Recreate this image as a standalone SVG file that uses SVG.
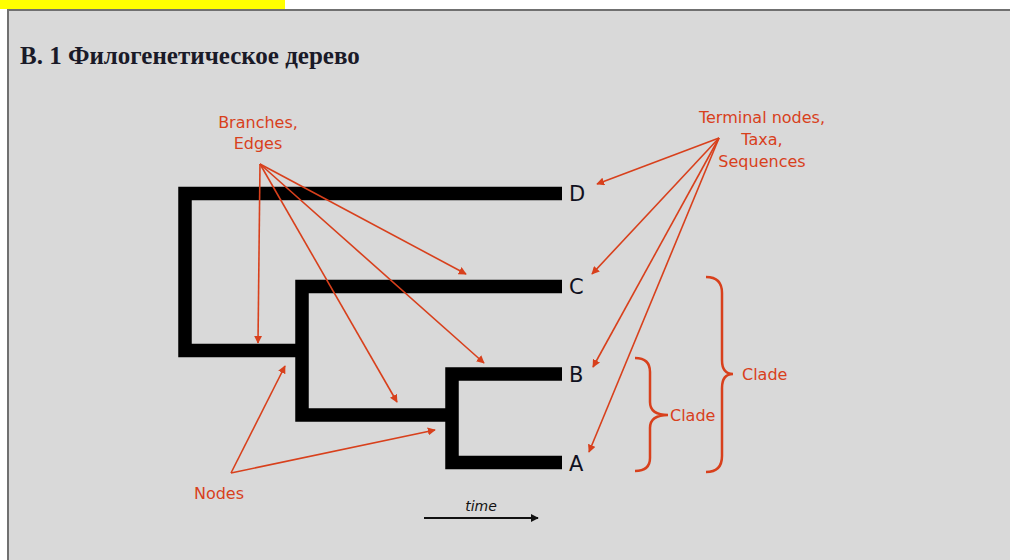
<svg xmlns="http://www.w3.org/2000/svg" width="1010" height="560" viewBox="0 0 1010 560">
<defs>
<style>
.tree{stroke:#000;stroke-width:13.5;fill:none;stroke-linejoin:miter;stroke-linecap:butt}
.lbl{font-family:"DejaVu Sans",sans-serif;font-size:21px;fill:#101020}
.red{font-family:"DejaVu Sans",sans-serif;font-size:16px;fill:#d8401c}
.ptr{stroke:#d8401c;stroke-width:1.6;fill:none;marker-end:url(#ah)}
.brace{stroke:#d8401c;stroke-width:2.5;fill:none}
</style>
<marker id="ah" viewBox="0 0 10 10" refX="9" refY="5" markerWidth="5" markerHeight="5" orient="auto" markerUnits="strokeWidth">
<path d="M0,0 L10,5 L0,10 z" fill="#d8401c"/>
</marker>
<marker id="ahk" viewBox="0 0 10 10" refX="9" refY="5" markerWidth="4" markerHeight="4" orient="auto" markerUnits="strokeWidth">
<path d="M0,0 L10,5 L0,10 z" fill="#111"/>
</marker>
</defs>
<rect x="0" y="0" width="1010" height="560" fill="#fff"/>
<rect x="0" y="0" width="285" height="9" fill="#ffff00"/>
<rect x="8" y="10" width="1010" height="560" fill="#d9d9d9" stroke="#707070" stroke-width="2"/>
<text x="20" y="64" font-family="Liberation Serif, serif" font-weight="bold" font-size="25" fill="#1a1a28">В. 1 Филогенетическое дерево</text>

<g id="tree">
<path class="tree" d="M562,193.5 H185 V350.5 H302"/>
<path class="tree" d="M562,286.5 H302 V415 H452"/>
<path class="tree" d="M562,374 H452 V462.5 H562"/>
</g>

<g id="leaf-D"><text class="lbl" x="569" y="201">D</text></g>
<g id="leaf-C"><text class="lbl" x="569" y="294">C</text></g>
<g id="leaf-B"><text class="lbl" x="569" y="382">B</text></g>
<g id="leaf-A"><text class="lbl" x="569" y="471">A</text></g>

<g id="label-branches">
<text class="red" text-anchor="middle" x="258" y="128">Branches,</text>
<text class="red" text-anchor="middle" x="258" y="149">Edges</text>
</g>
<g id="label-terminal">
<text class="red" text-anchor="middle" x="762" y="123">Terminal nodes,</text>
<text class="red" text-anchor="middle" x="762" y="145">Taxa,</text>
<text class="red" text-anchor="middle" x="762" y="167">Sequences</text>
</g>
<g id="label-nodes"><text class="red" text-anchor="middle" x="219" y="499">Nodes</text></g>

<g id="clade-small">
<path class="brace" d="M635,358 Q650,358 650,372 V402 Q650,415 668,415 Q650,415 650,428 V458 Q650,471 635,471"/>
<text class="red" x="670" y="421">Clade</text>
</g>
<g id="clade-big">
<path class="brace" d="M706,277 Q722,277 722,293 V360 Q722,374 733,374 Q722,374 722,388 V456 Q722,472 706,472"/>
<text class="red" x="742" y="380">Clade</text>
</g>

<g id="connectors">
<line class="ptr" x1="260" y1="164" x2="258" y2="343"/>
<line class="ptr" x1="260" y1="164" x2="466" y2="274"/>
<line class="ptr" x1="260" y1="164" x2="397" y2="402"/>
<line class="ptr" x1="260" y1="164" x2="484" y2="363"/>
<line class="ptr" x1="231" y1="473" x2="285" y2="366"/>
<line class="ptr" x1="231" y1="473" x2="435" y2="430"/>
<line class="ptr" x1="719" y1="138" x2="597" y2="184"/>
<line class="ptr" x1="719" y1="138" x2="592" y2="274"/>
<line class="ptr" x1="719" y1="138" x2="593" y2="367"/>
<line class="ptr" x1="719" y1="138" x2="589" y2="452"/>
</g>

<g id="time">
<text x="481" y="511" text-anchor="middle" font-family="DejaVu Sans, sans-serif" font-style="italic" font-size="14" fill="#111">time</text>
<line x1="424" y1="518" x2="538" y2="518" stroke="#111" stroke-width="2" marker-end="url(#ahk)"/>
</g>
</svg>
